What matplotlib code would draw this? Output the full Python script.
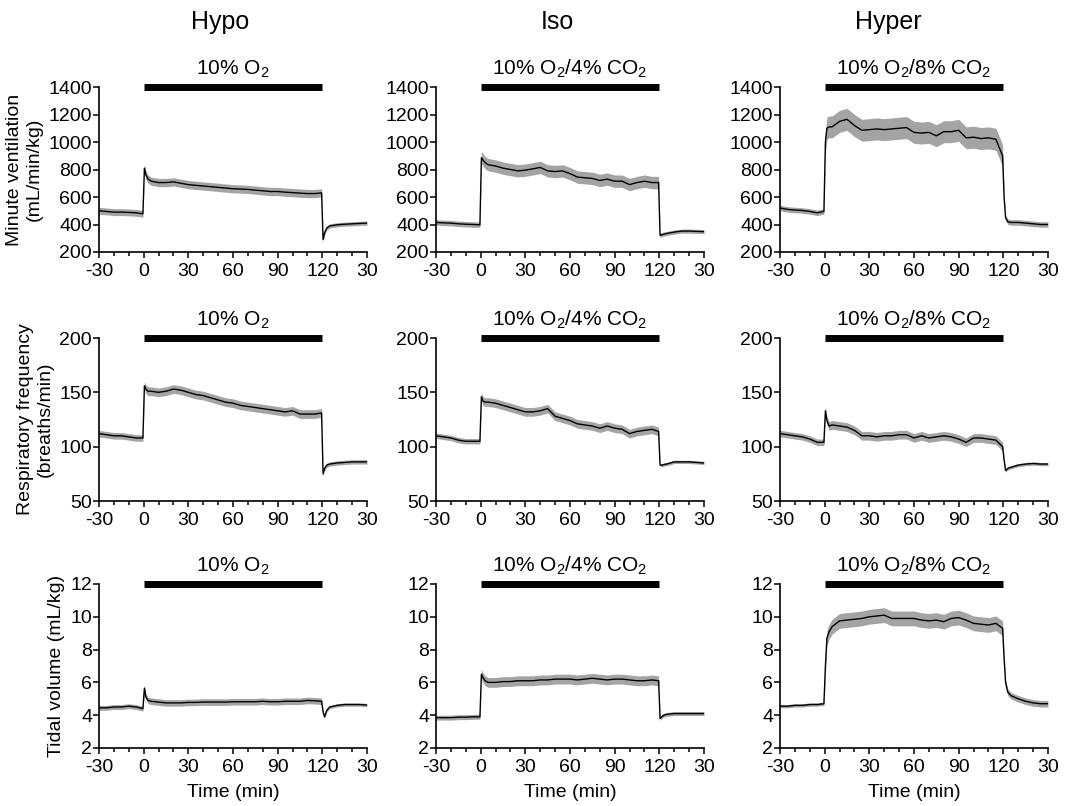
#!/usr/bin/python
# -*- coding: utf-8 -*-

import matplotlib
matplotlib.use('Agg')
from matplotlib import pyplot
from matplotlib import ticker
import numpy

# Sample times (min); 120-150 is the 30 min recovery period.
TIME = [-30, -25, -20, -15, -10, -5, -0.5,
        0.5, 1.5, 3, 5, 10, 15, 20, 25, 30, 35, 40, 45, 50, 55, 60, 65, 70,
        75, 80, 85, 90, 95, 100, 105, 110, 115, 119.5,
        120.5, 121.5, 123, 125, 130, 135, 140, 145, 150]

GROUPS = ['Hypo', 'Iso', 'Hyper']
GASES = ['10% O$_2$', '10% O$_2$/4% CO$_2$', '10% O$_2$/8% CO$_2$']

# Minute ventilation (mL/min/kg)
VE_HYPO = [500, 495, 490, 490, 488, 485, 478,
           810, 760, 730, 715, 705, 705, 710, 700, 690, 685, 680, 675, 670,
           665, 660, 658, 655, 650, 645, 640, 640, 635, 632, 628, 625, 625,
           630,
           290, 340, 375, 390, 398, 402, 405, 408, 410]
VE_ISO = [415, 412, 410, 405, 402, 400, 398,
          886, 870, 850, 835, 825, 810, 800, 790, 795, 805, 815, 790, 785,
          790, 770, 745, 740, 735, 720, 730, 715, 715, 690, 705, 715, 705,
          705,
          320, 325, 330, 335, 345, 352, 352, 350, 348]
VE_HYPER = [520, 510, 505, 502, 495, 485, 495,
            1000, 1100, 1110, 1110, 1150, 1165, 1120, 1085, 1090, 1095, 1090,
            1095, 1100, 1105, 1070, 1065, 1070, 1045, 1075, 1075, 1085, 1030,
            1035, 1025, 1030, 1020, 900,
            600, 450, 420, 415, 415, 410, 405, 400, 400]

# Respiratory frequency (breaths/min)
F_HYPO = [112, 111, 110, 110, 109, 108, 108,
          156, 153, 151, 151, 150, 151, 153, 152, 150, 148, 147, 145, 143,
          141, 140, 138, 137, 136, 135, 134, 133, 132, 133, 130, 130, 130,
          131,
          75, 80, 83, 84, 85, 85.5, 86, 86, 86]
F_ISO = [110, 109, 108, 106, 105, 105, 105,
         146, 142, 141, 141, 140, 138, 136, 134, 132, 132, 133, 135, 128,
         126, 124, 121, 120, 119, 117, 119, 117, 116, 112, 114, 115, 116,
         114,
         83, 83, 83.5, 84, 86, 86, 86, 85.5, 85]
F_HYPER = [112, 111, 110, 109, 107, 104, 104,
           133, 124, 119, 120, 119, 118, 115, 110, 110, 109, 110, 110, 111,
           111, 108, 110, 108, 109, 110, 109, 107, 104, 108, 108, 107, 106,
           100,
           88, 78, 80, 81, 83, 84, 84.5, 84, 84]

# Tidal volume (mL/kg)
VT_HYPO = [4.45, 4.45, 4.5, 4.5, 4.55, 4.5, 4.4,
           5.65, 5.1, 4.9, 4.85, 4.8, 4.75, 4.75, 4.75, 4.78, 4.78, 4.8, 4.8,
           4.8, 4.8, 4.82, 4.82, 4.82, 4.82, 4.85, 4.82, 4.82, 4.85, 4.85,
           4.85, 4.9, 4.88, 4.85,
           4.2, 3.9, 4.3, 4.5, 4.6, 4.65, 4.65, 4.65, 4.62]
VT_ISO = [3.85, 3.85, 3.85, 3.88, 3.88, 3.9, 3.9,
          6.5, 6.3, 6.1, 6.0, 6.0, 6.05, 6.05, 6.1, 6.1, 6.1, 6.15, 6.15, 6.2,
          6.2, 6.2, 6.15, 6.2, 6.25, 6.2, 6.15, 6.2, 6.2, 6.15, 6.1, 6.1,
          6.15, 6.1,
          3.8, 3.9, 4.0, 4.05, 4.1, 4.1, 4.1, 4.1, 4.1]
VT_HYPER = [4.55, 4.55, 4.6, 4.6, 4.65, 4.65, 4.7,
            7.0, 8.7, 9.1, 9.4, 9.75, 9.8, 9.85, 9.9, 10.0, 10.05, 10.1, 9.9,
            9.9, 9.9, 9.9, 9.8, 9.75, 9.8, 9.7, 9.9, 9.95, 9.8, 9.6, 9.55,
            9.5, 9.6, 9.3,
            7.5, 6.0, 5.4, 5.2, 5.0, 4.85, 4.75, 4.7, 4.7]

# SEM half-width for baseline, exposure and recovery
SEM_VE = [[25, 30, 15], [20, 45, 15], [20, 80, 20]]
SEM_F = [[3, 4, 2], [2.5, 4, 1.5], [3, 4, 1.5]]
SEM_VT = [[0.15, 0.2, 0.1], [0.15, 0.3, 0.12], [0.1, 0.45, 0.2]]

ROWS = [
    ([VE_HYPO, VE_ISO, VE_HYPER], SEM_VE, (200, 1400), 200,
     'Minute ventilation\n(mL/min/kg)'),
    ([F_HYPO, F_ISO, F_HYPER], SEM_F, (50, 200), 50,
     'Respiratory frequency\n(breaths/min)'),
    ([VT_HYPO, VT_ISO, VT_HYPER], SEM_VT, (2, 12), 2,
     'Tidal volume (mL/kg)'),
]

XTICKS = [-30, 0, 30, 60, 90, 120, 150]
XTICKLABELS = ['-30', '0', '30', '60', '90', '120', '30']


def sem_band(t, sem):
  return numpy.where(t < 0, sem[0], numpy.where(t < 120, sem[1], sem[2]))


def main():
  pyplot.rcParams['font.family'] = ['Liberation Sans', 'DejaVu Sans']
  pyplot.rcParams['mathtext.fontset'] = 'custom'
  pyplot.rcParams['mathtext.rm'] = 'Liberation Sans'
  pyplot.rcParams['mathtext.default'] = 'regular'

  fig = pyplot.figure(figsize=(10.65, 8.06), dpi=100)
  W, H = 1065.0, 806.0
  lefts = [99, 436, 780]
  width = 268
  rows_px = [(87, 252), (338, 501), (584, 748)]
  t = numpy.array(TIME)

  for r, (series, sems, ylim, ystep, ylabel) in enumerate(ROWS):
    top, bottom = rows_px[r]
    for c in range(3):
      ax = fig.add_axes([lefts[c] / W, 1 - bottom / H, width / W,
                         (bottom - top) / H])
      y = numpy.array(series[c])
      err = sem_band(t, sems[c])
      ax.fill_between(t, y - err, y + err, color='#a4a4a4', linewidth=0)
      ax.plot(t, y, color='black', linewidth=1)

      ax.set_xlim(-30, 150)
      ax.set_ylim(*ylim)
      ax.set_xticks(XTICKS)
      ax.set_xticklabels(XTICKLABELS)
      ax.xaxis.set_minor_locator(ticker.MultipleLocator(10))
      ax.set_yticks(numpy.arange(ylim[0], ylim[1] + ystep, ystep))
      for side in ('top', 'right'):
        ax.spines[side].set_visible(False)
      for side in ('left', 'bottom'):
        ax.spines[side].set_linewidth(1.2)
      ax.tick_params(which='major', direction='out', length=4, width=1.1,
                     labelsize=14)
      ax.tick_params(axis='x', which='major', pad=4)
      ax.tick_params(axis='y', which='major', pad=1)
      ax.tick_params(which='minor', direction='out', length=3, width=1.1)
      ax.tick_params(axis='y', which='minor', left=False)

      # exposure bar with gas label
      ax.plot([0, 120], [ylim[1], ylim[1]], color='black', linewidth=5,
              solid_capstyle='butt', clip_on=False)
      ax.annotate(GASES[c], xy=(60, ylim[1]), xytext=(0, 5),
                  textcoords='offset points', ha='center', va='bottom',
                  fontsize=15, annotation_clip=False)

      if c == 0:
        ax.set_ylabel(ylabel, fontsize=14, labelpad=4)
      if r == 2:
        ax.set_xlabel('Time (min)', fontsize=14, labelpad=6)

  for name, x in zip(GROUPS, [220, 557, 888]):
    fig.text(x / W, 1 - 22 / H, name, fontsize=18, ha='center', va='center')

  fig.savefig('out.png', dpi=100)


if __name__ == '__main__':
  main()
